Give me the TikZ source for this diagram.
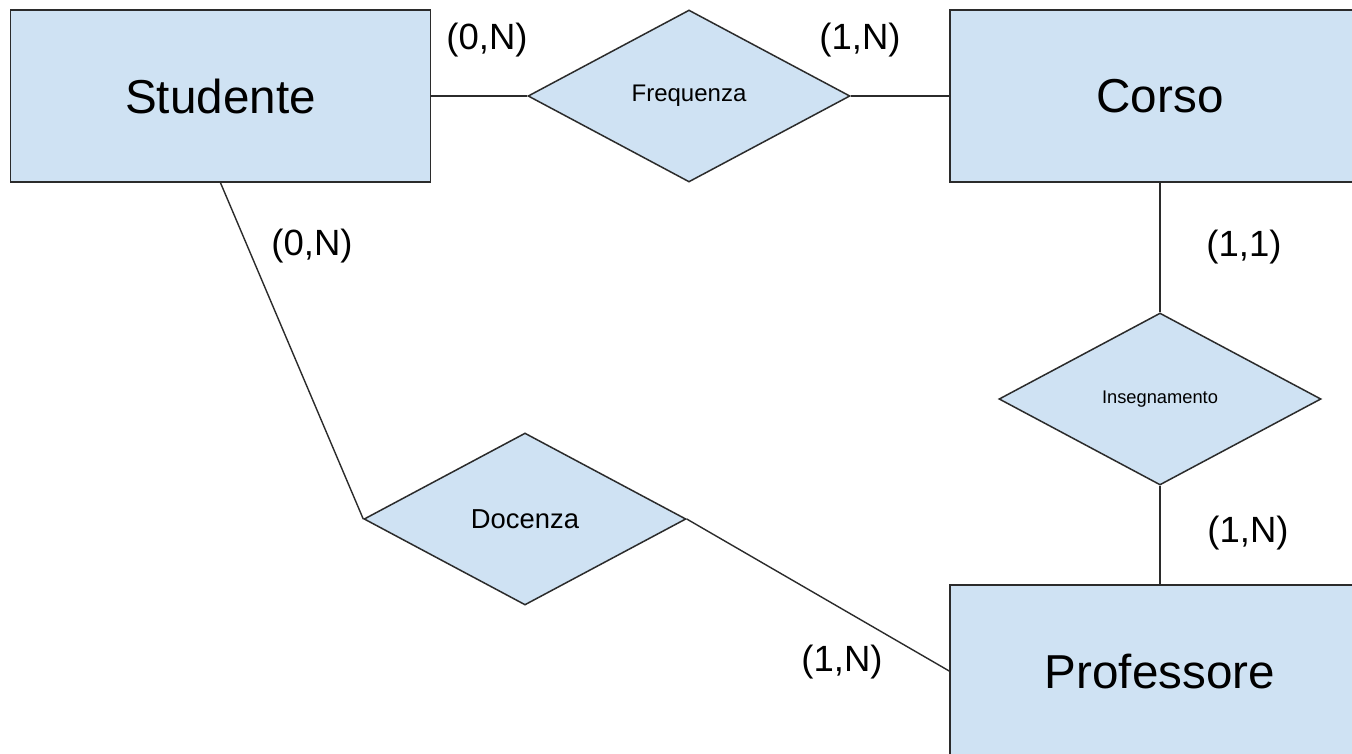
\documentclass[tikz,border=0pt]{standalone}
\usepackage{fontspec}
\setmainfont{Liberation Sans}
\usetikzlibrary{shapes.geometric}
\definecolor{erfill}{HTML}{CFE2F3}
\definecolor{erline}{HTML}{2B2B2B}
\tikzset{
  entity/.style={draw=erline, fill=erfill, line width=1.6pt, rectangle, inner sep=0pt,
    minimum width=420pt, minimum height=172pt, font=\fontsize{47.6}{56}\selectfont},
  relation/.style={draw=erline, fill=erfill, line width=1.5pt, diamond, inner sep=0pt,
    minimum width=322pt, minimum height=172pt},
  link/.style={draw=erline, line width=1.4pt},
  card/.style={inner sep=0pt, font=\fontsize{36.5}{44}\selectfont}
}
\begin{document}
\begin{tikzpicture}[x=1pt,y=-1pt]
\useasboundingbox (0,0) rectangle (1352,753);
\clip (0,0) rectangle (1352,753);
\fill[white] (0,0) rectangle (1352,753);
% entities
\node[entity] (stud) at (220.5,96) {Studente};
\node[entity] (corso) at (1160,96) {Corso};
\node[entity] (prof) at (1160,671) {Professore};
% relations
\node[relation, font=\fontsize{24}{28}\selectfont] (freq) at (689,96) {Frequenza};
\node[relation, font=\fontsize{18.3}{22}\selectfont] (ins) at (1160,399) {Insegnamento};
\node[relation, font=\fontsize{27.4}{32}\selectfont] (doc) at (525,519) {Docenza};
% connectors
\draw[link] (stud.east) -- (freq.west);
\draw[link] (freq.east) -- (corso.west);
\draw[link] (corso.south) -- (ins.north);
\draw[link] (ins.south) -- (prof.north);
\draw[link] (stud.south) -- (doc.west);
\draw[link] (doc.east) -- (prof.west);
% cardinalities
\node[card] (c1) at (487,40) {(0,N)};
\node[card] (c2) at (860,40) {(1,N)};
\node[card] (c3) at (312,246) {(0,N)};
\node[card] (c4) at (1244,247) {(1,1)};
\node[card] (c5) at (1248,533) {(1,N)};
\node[card] (c6) at (842,662) {(1,N)};
\end{tikzpicture}
\end{document}
